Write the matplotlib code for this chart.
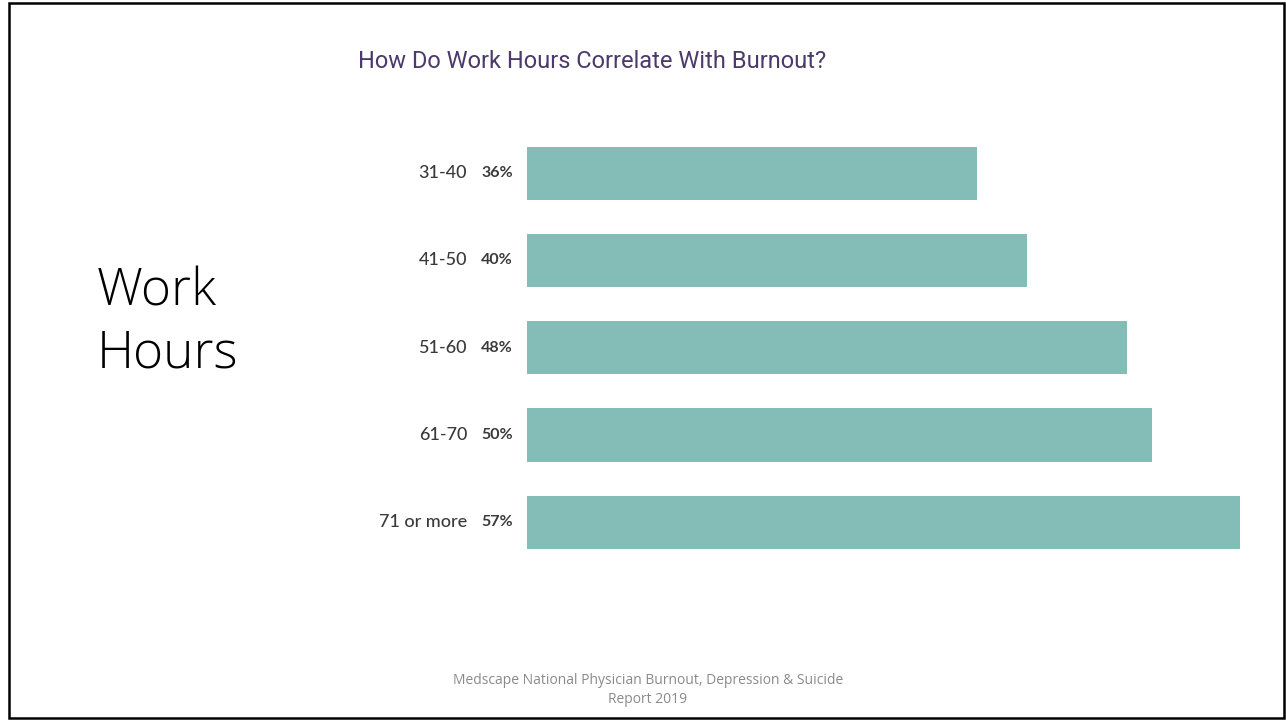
import matplotlib
matplotlib.use("Agg")
import matplotlib.pyplot as plt
from matplotlib.patches import Rectangle

# Medscape 2019: share of physicians reporting burnout, by weekly work hours
hour_bands = ["31-40", "41-50", "51-60", "61-70", "71 or more"]
burnout_pct = [36, 40, 48, 50, 57]

title = "How Do Work Hours Correlate With Burnout?"
side_label = "Work\nHours"
source_note = "Medscape National Physician Burnout, Depression & Suicide\nReport 2019"

BAR_COLOR = "#84bcb8"
TITLE_COLOR = "#4b3a6b"
LABEL_COLOR = "#3a3a3a"

W, H = 1286, 721
fig = plt.figure(figsize=(W / 100, H / 100), dpi=100)

# axes placed in pixel terms so bars start where the slide's bars start
ax = fig.add_axes([527 / W, 1 - 566 / H, 750 / W, 436.5 / H])
ypos = list(range(len(hour_bands)))
ax.barh(ypos, burnout_pct, height=0.61, color=BAR_COLOR)
ax.set_xlim(0, 60)
ax.set_ylim(len(hour_bands) - 0.5, -0.5)
ax.axis("off")

for y, band, pct in zip(ypos, hour_bands, burnout_pct):
    ax.annotate(band, xy=(0, y), xytext=(-60, 0), textcoords="offset pixels",
                ha="right", va="center", fontsize=13, color=LABEL_COLOR,
                family="Lato", fontweight="medium")
    ax.annotate(f"{pct}%", xy=(0, y), xytext=(-46, 0), textcoords="offset pixels",
                ha="left", va="center", fontsize=11.5, color=LABEL_COLOR,
                family="Lato", fontweight="bold")

fig.text(358 / W, 1 - 61 / H, title, ha="left", va="center", fontsize=17,
         color=TITLE_COLOR, family="Roboto")
fig.text(97 / W, 1 - 368 / H, side_label, ha="left", va="baseline", fontsize=37,
         family="Open Sans", fontweight="light", linespacing=1.28)
fig.text(648 / W, 1 - 690 / H, source_note, ha="center", va="center", fontsize=10,
         color="#8a8a8a", family="Open Sans", linespacing=1.3)

# slide frame
fig.patches.append(Rectangle((9 / W, 3 / H), 1275 / W, 715 / H, transform=fig.transFigure,
                             fill=False, edgecolor="black", linewidth=1.8))

fig.savefig("out.png", dpi=100, facecolor="white")
